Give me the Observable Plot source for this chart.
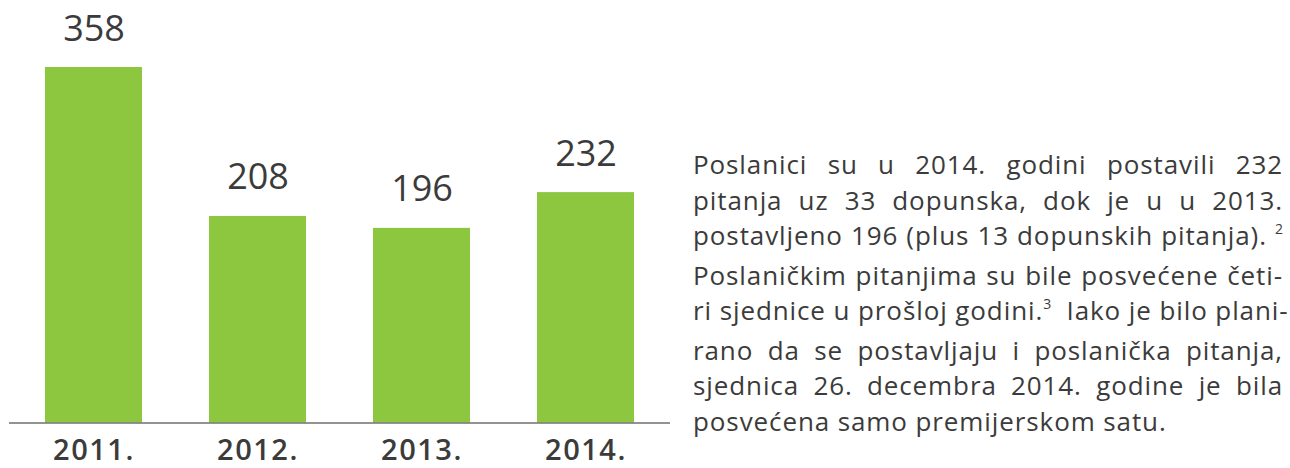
<!DOCTYPE html>
<html>
<head>
<meta charset="utf-8">
<script src="https://cdn.jsdelivr.net/npm/d3@7"></script>
<script src="https://cdn.jsdelivr.net/npm/@observablehq/plot@0.6"></script>
<style>
  html, body { margin: 0; padding: 0; background: #fff; }
  body { width: 1290px; height: 468px; position: relative; overflow: hidden; font-family: "Open Sans", sans-serif; color: #3b3b3b; }
  #chart { position: absolute; left: 0; top: 0; }
  #chart svg g[aria-label="x-axis tick label"] text { letter-spacing: 1.5px; }
  #para { position: absolute; left: 693px; top: 147px; width: 590px; font-size: 26px; line-height: 35.5px; letter-spacing: 0.9px; color: #3b3b3b; }
  #para .ln { white-space: nowrap; text-align: justify; text-align-last: justify; }
  #para .ln.last { text-align: left; text-align-last: left; }
  #para sup { font-size: 14px; vertical-align: 0; position: relative; top: -11px; letter-spacing: 0; }
</style>
</head>
<body>
<div id="chart"></div>
<div id="para"></div>
<script>
const years = ["2011.", "2012.", "2013.", "2014."];
const values = [358, 208, 196, 232];
const paraLines = [
  "Poslanici su u 2014. godini postavili 232",
  "pitanja uz 33 dopunska, dok je u u 2013.",
  "postavljeno 196 (plus 13 dopunskih pitanja). <sup>2</sup>",
  "Poslaničkim pitanjima su bile posvećene četi-",
  "ri sjednice u prošloj godini.<sup>3</sup>&nbsp; Iako je bilo plani-",
  "rano da se postavljaju i poslanička pitanja,",
  "sjednica 26. decembra 2014. godine je bila",
  "posvećena samo premijerskom satu."
];

const data = years.map((y, i) => ({year: y, value: values[i]}));

const chart = Plot.plot({
  width: 680,
  height: 468,
  marginLeft: 9,
  marginRight: 10,
  marginTop: 67,
  marginBottom: 45.5,
  style: {color: "#3b3b3b", fontFamily: "'Open Sans', sans-serif", background: "transparent"},
  x: {domain: years, paddingInner: 0.41, paddingOuter: 0.216, label: null},
  y: {domain: [0, 358], axis: null},
  marks: [
    Plot.barY(data, {x: "year", y: "value", fill: "#8dc63f"}),
    Plot.ruleY([0], {stroke: "#6f6f6f", strokeWidth: 1.5}),
    Plot.text(data, {x: "year", y: "value", text: d => String(d.value), lineAnchor: "bottom", dy: -27, fontSize: 36, fill: "#3b3b3b"}),
    Plot.axisX({tickSize: 0, tickPadding: 16, fontSize: 29, fontWeight: 600, label: null, lineAnchor: "top"})
  ]
});
document.getElementById("chart").appendChild(chart);

const para = document.getElementById("para");
paraLines.forEach((t, i) => {
  const d = document.createElement("div");
  d.className = "ln" + (i === paraLines.length - 1 ? " last" : "");
  d.innerHTML = t;
  para.appendChild(d);
});
</script>
</body>
</html>
